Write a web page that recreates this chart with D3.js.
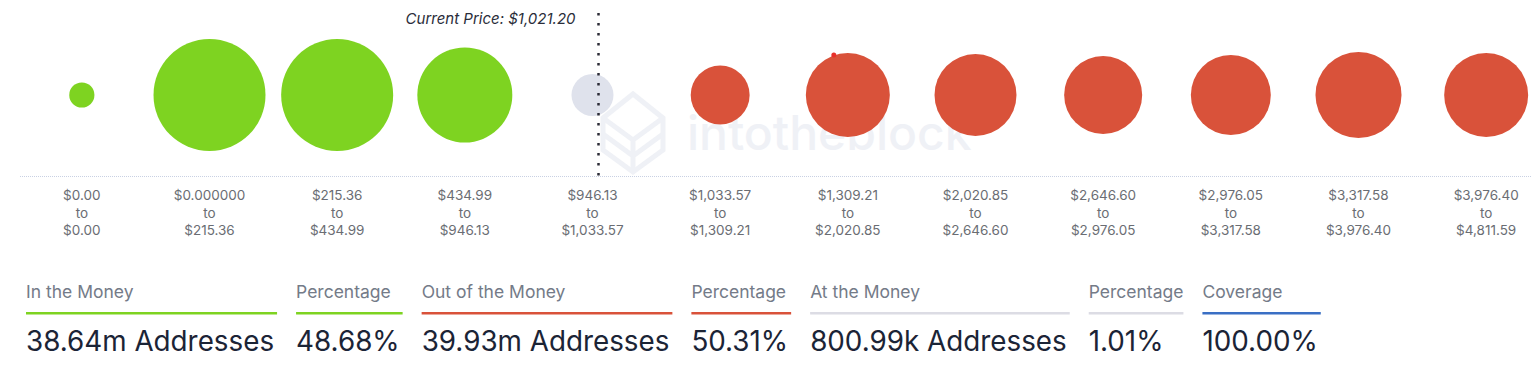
<!DOCTYPE html>
<html>
<head>
<meta charset="utf-8">
<script src="https://cdn.jsdelivr.net/npm/d3@7"></script>
<style>
  html, body { margin: 0; padding: 0; background: #fff; }
  svg { display: block; font-family: Inter, "Noto Sans", sans-serif; }
</style>
</head>
<body>
<div id="chart"></div>
<script>
"use strict";

// Price buckets (from / to) and address counts (millions) per bucket
const bucketFrom = ["$0.00", "$0.000000", "$215.36", "$434.99", "$946.13", "$1,033.57",
                    "$1,309.21", "$2,020.85", "$2,646.60", "$2,976.05", "$3,317.58", "$3,976.40"];
const bucketTo   = ["$0.00", "$215.36", "$434.99", "$946.13", "$1,033.57", "$1,309.21",
                    "$2,020.85", "$2,646.60", "$2,976.05", "$3,317.58", "$3,976.40", "$4,811.59"];
const addresses  = [0.10, 10.9, 10.9, 7.38, 0.80, 2.18, 5.47, 5.15, 4.55, 4.84, 5.80, 5.47];
const status     = ["in", "in", "in", "in", "at", "out", "out", "out", "out", "out", "out", "out"];

const currentPrice = "$1,021.20";
const currentBucket = 4;

// Summary strip
const summaryHeaders = ["In the Money", "Percentage", "Out of the Money", "Percentage",
                        "At the Money", "Percentage", "Coverage"];
const summaryValues  = ["38.64m Addresses", "48.68%", "39.93m Addresses", "50.31%",
                        "800.99k Addresses", "1.01%", "100.00%"];
const summaryKind    = ["in", "in", "out", "out", "at", "at", "cov"];

const COLORS = { in: "#7ed321", out: "#d9523a", at: "#dfe2ec", cov: "#3a6fc4" };
const LINE_COLORS = { in: "#7ed321", out: "#d9523a", at: "#dcdce4", cov: "#3a6fc4" };

const WIDTH = 1532, HEIGHT = 371;

const svg = d3.select("#chart")
  .append("svg")
    .attr("width", WIDTH)
    .attr("height", HEIGHT);

const x = d3.scaleBand()
    .domain(d3.range(bucketFrom.length))
    .range([18, 1550]);

const r = d3.scaleSqrt()
    .domain([0, d3.max(addresses)])
    .range([8, 56]);

const CY = 95;

// Watermark
const wm = svg.append("g").attr("fill", "none").attr("stroke", "#eff1f6").attr("stroke-width", 5);
wm.append("path").attr("d", "M603,118 L633,94 L663,118 L663,150 L633,172 L603,150 Z");
wm.append("path").attr("d", "M603,118 L633,140 L663,118 M633,140 L633,172 M603,134 L633,156 L663,134");
svg.append("text")
    .attr("x", 687)
    .attr("y", 150)
    .attr("fill", "#eff1f6")
    .attr("font-size", 48)
    .attr("font-weight", 500)
    .text("intotheblock");

// Baseline under the bubbles
svg.append("line")
    .attr("x1", 20).attr("x2", WIDTH)
    .attr("y1", 176.5).attr("y2", 176.5)
    .attr("stroke", "#c9d1e3")
    .attr("stroke-dasharray", "1 1");

// Bubbles
svg.append("g")
  .selectAll("circle")
  .data(addresses)
  .join("circle")
    .attr("cx", (d, i) => x(i) + x.bandwidth() / 2)
    .attr("cy", CY)
    .attr("r", d => r(d))
    .attr("fill", (d, i) => COLORS[status[i]]);

// Hover marker on the 7th bubble
const hover = 6;
svg.append("circle")
    .attr("cx", x(hover) + x.bandwidth() / 2 - 14)
    .attr("cy", CY - r(addresses[hover]) + 2)
    .attr("r", 2.5)
    .attr("fill", "#e8302a");

// Current price marker
const priceX = x(currentBucket) + x.bandwidth() / 2 + 6;
svg.append("line")
    .attr("x1", priceX).attr("x2", priceX)
    .attr("y1", 13).attr("y2", 176)
    .attr("stroke", "#2b2b36")
    .attr("stroke-width", 2.5)
    .attr("stroke-dasharray", "2.5 7.5");

svg.append("text")
    .attr("x", priceX - 23)
    .attr("y", 24)
    .attr("text-anchor", "end")
    .attr("font-size", 15)
    .attr("font-style", "italic")
    .attr("fill", "#2a2d3a")
    .text(`Current Price: ${currentPrice}`);

// Bucket labels
const labels = svg.append("g")
    .attr("font-size", 13.5)
    .attr("fill", "#6a6d73")
    .attr("text-anchor", "middle");

bucketFrom.forEach((from, i) => {
    const cx = x(i) + x.bandwidth() / 2;
    const t = labels.append("text").attr("x", cx);
    [from, "to", bucketTo[i]].forEach((s, k) => {
        t.append("tspan").attr("x", cx).attr("y", 200 + k * 17.5).text(s);
    });
});

// Summary strip
const strip = svg.append("g");
let cursor = 26;
summaryHeaders.forEach((h, i) => {
    const g = strip.append("g").attr("transform", `translate(${cursor},0)`);
    const ht = g.append("text")
        .attr("y", 298)
        .attr("font-size", 17.5)
        .attr("fill", "#747b88")
        .text(h);
    const v = g.append("text")
        .attr("y", 351)
        .attr("font-size", 27.8)
        .attr("fill", "#1b2436")
        .text(summaryValues[i]);
    const w = Math.max(ht.node().getComputedTextLength(), v.node().getComputedTextLength() + 3);
    g.append("rect")
        .attr("y", 312)
        .attr("width", w)
        .attr("height", 2.5)
        .attr("fill", LINE_COLORS[summaryKind[i]]);
    cursor += w + 19;
});
</script>
</body>
</html>
